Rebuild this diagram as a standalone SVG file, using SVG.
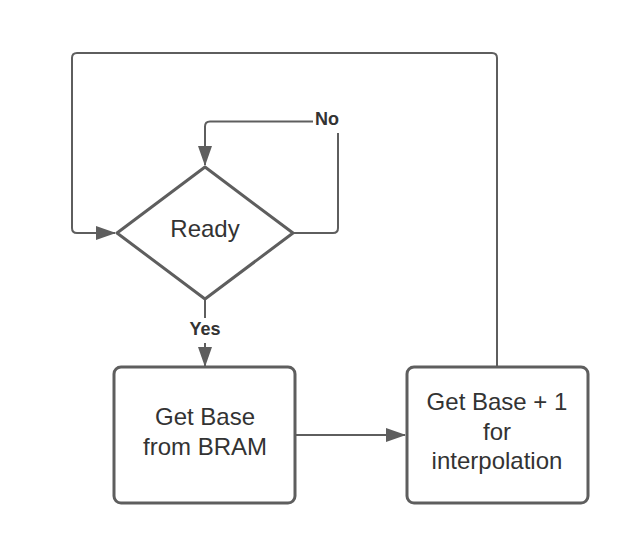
<svg xmlns="http://www.w3.org/2000/svg" width="633" height="554" viewBox="0 0 633 554">
<defs>
<style>
.shape{fill:#ffffff;stroke:#5e5e5e;stroke-width:3;stroke-linejoin:round}
.conn{fill:none;stroke:#5e5e5e;stroke-width:2}
.t{font-family:"Liberation Sans",Arial,sans-serif;font-size:24px;fill:#333333;text-anchor:middle}
.lbl{font-family:"Liberation Sans",Arial,sans-serif;font-size:18px;font-weight:bold;fill:#333333;text-anchor:middle}
</style>
<marker id="arr" markerWidth="20" markerHeight="14" refX="19" refY="7" orient="auto" markerUnits="userSpaceOnUse">
<path d="M0,0 L20,7 L0,14 Z" fill="#5e5e5e"/>
</marker>
</defs>
<rect width="633" height="554" fill="#ffffff"/>
<g id="connectors">
<path class="conn" d="M497,367 V58 Q497,53 492,53 H77 Q72,53 72,58 V228 Q72,233 77,233 H115" marker-end="url(#arr)"/>
<path class="conn" d="M293,233 H333 Q338,233 338,228 V133"/>
<path class="conn" d="M313,121.5 H210 Q205,121.5 205,126.5 V165" marker-end="url(#arr)"/>
<path class="conn" d="M205,299 V318"/>
<path class="conn" d="M205,343 V366" marker-end="url(#arr)"/>
<path class="conn" d="M295,435 H405" marker-end="url(#arr)"/>
<text class="lbl" x="327" y="125">No</text>
<text class="lbl" x="205" y="335">Yes</text>
</g>
<g id="ready">
<path class="shape" d="M205,167 L293,233 L205,299 L117,233 Z"/>
<text class="t" x="205" y="237">Ready</text>
</g>
<g id="getbase">
<rect class="shape" x="114" y="367" width="181" height="136" rx="7"/>
<text class="t" x="205" y="425">Get Base</text>
<text class="t" x="205" y="455">from BRAM</text>
</g>
<g id="getbase1">
<rect class="shape" x="407" y="367" width="181" height="136" rx="7"/>
<text class="t" x="497" y="410">Get Base + 1</text>
<text class="t" x="497" y="440">for</text>
<text class="t" x="497" y="469">interpolation</text>
</g>
</svg>
